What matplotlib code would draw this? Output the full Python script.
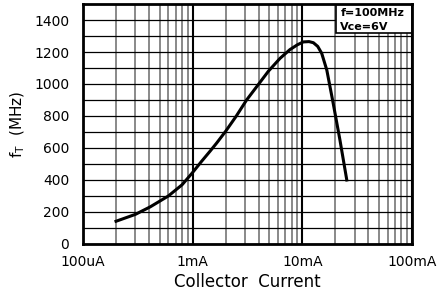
import numpy as np
import matplotlib.pyplot as plt
from matplotlib.patches import Rectangle
from matplotlib.ticker import LogLocator, FixedLocator, NullFormatter

# collector current (A) and transition frequency (MHz)
ic = [0.20e-3, 0.30e-3, 0.41e-3, 0.60e-3, 0.80e-3, 0.98e-3, 1.2e-3, 1.44e-3,
      1.65e-3, 2.0e-3, 2.5e-3, 3.1e-3, 4.0e-3, 4.9e-3, 6.25e-3, 7.7e-3,
      9.0e-3, 10.2e-3, 11.5e-3, 12.6e-3, 13.8e-3, 15.0e-3, 16.7e-3,
      19.1e-3, 22.0e-3, 25.4e-3]
ft = [142, 185, 232, 300, 370, 440, 515, 580,
      630, 705, 800, 900, 1000, 1080, 1160, 1215,
      1245, 1263, 1265, 1258, 1235, 1192, 1087,
      879, 650, 400]

xticks = [1e-4, 1e-3, 1e-2, 1e-1]
xlabels = ["100uA", "1mA", "10mA", "100mA"]
yticks = [0, 200, 400, 600, 800, 1000, 1200, 1400]

fig = plt.figure(figsize=(4.45, 2.99), dpi=100)
ax = fig.add_axes([0.1865, 0.184, 0.7395, 0.8026])

ax.set_xscale("log")
ax.set_xlim(1e-4, 1e-1)
ax.set_ylim(0, 1500)

# grid: black decades, grey minor verticals, black horizontals every 100
ax.xaxis.set_minor_locator(LogLocator(base=10, subs=np.arange(2, 10)))
ax.xaxis.set_minor_formatter(NullFormatter())
ax.yaxis.set_minor_locator(FixedLocator(np.arange(100, 1500, 100)))
ax.grid(True, which="major", axis="x", color="black", linewidth=1.5)
ax.grid(True, which="minor", axis="x", color="#808080", linewidth=1.3)
ax.grid(True, which="both", axis="y", color="black", linewidth=0.9)

ax.plot(ic, ft, color="black", linewidth=2.2, zorder=3)

ax.set_xticks(xticks)
ax.set_xticklabels(xlabels)
ax.set_yticks(yticks)
ax.tick_params(which="both", length=0, labelsize=10)
ax.tick_params(axis="x", pad=8)
ax.tick_params(axis="y", pad=10)

for s in ax.spines.values():
    s.set_linewidth(2)
    s.set_zorder(6)

ax.set_xlabel("Collector  Current", fontsize=12, labelpad=3)
ax.set_ylabel(r"f$_\mathregular{T}$  (MHz)", fontsize=11, labelpad=5)

# condition box in the top right corner
ax.add_patch(Rectangle((0.77, 0.88), 0.23, 0.12, transform=ax.transAxes,
                       facecolor="white", edgecolor="black", linewidth=1.2,
                       zorder=5))
ax.text(0.782, 0.963, "f=100MHz", transform=ax.transAxes, ha="left",
        va="center", fontsize=8, fontweight="bold", zorder=6)
ax.text(0.782, 0.905, "Vce=6V", transform=ax.transAxes, ha="left",
        va="center", fontsize=8, fontweight="bold", zorder=6)

plt.savefig("out.png", dpi=100)
